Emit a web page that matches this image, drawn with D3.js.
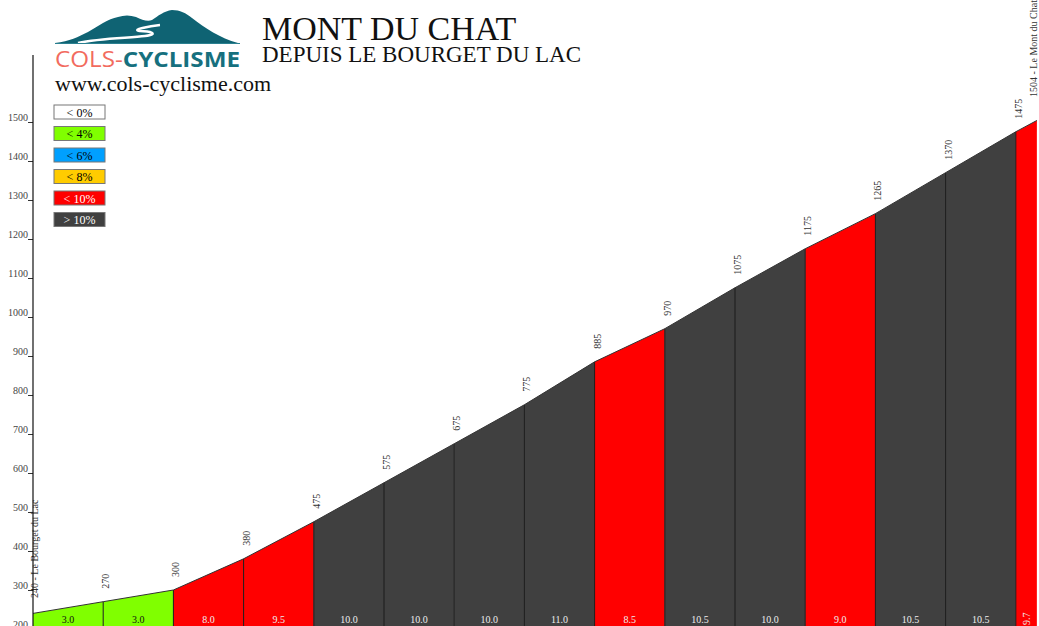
<!DOCTYPE html>
<html>
<head>
<meta charset="utf-8">
<script src="https://cdn.jsdelivr.net/npm/d3@7"></script>
<style>
  body { margin:0; background:#fff; }
  svg { display:block; }
</style>
</head>
<body>
<svg id="drawing_region"></svg>
<script>
// profile data: km marks, altitude at each mark, gradient of each segment
const km        = [0,1,2,3,4,5,6,7,8,9,10,11,12,13,14,14.3];
const altitudes = [240,270,300,380,475,575,675,775,885,970,1075,1175,1265,1370,1475,1504];
const gradients = [3.0,3.0,8.0,9.5,10.0,10.0,10.0,11.0,8.5,10.5,10.0,9.0,10.5,10.5,9.7];
const yTicks    = [200,300,400,500,600,700,800,900,1000,1100,1200,1300,1400,1500];

const legendLabels = ["< 0%","< 4%","< 6%","< 8%","< 10%","> 10%"];
const legendColors = ["#ffffff","#80ff00","#00a0ff","#ffcc00","#ff0000","#404040"];
const legendText   = ["#000","#000","#000","#000","#fff","#fff"];
const thresholds   = [0,4,6,8,10];

const startLabel  = "240 - Le Bourget du Lac";
const summitLabel = "1504 - Le Mont du Chat";

const config = {
    width:1039,
    height:626,
    left:33,
    kmWidth:70.2,
    yBottom:629,
    yTop:122
};

const serif = "'Liberation Serif','Times New Roman',serif";

const svg = d3.select("#drawing_region")
    .attr("width",config.width)
    .attr("height",config.height)
    .style("font-family",serif);

const xscale = d3.scaleLinear()
    .domain([0,d3.max(km)])
    .range([config.left,config.left+d3.max(km)*config.kmWidth]);
const yscale = d3.scaleLinear()
    .domain([200,1500])
    .range([config.yBottom,config.yTop]);
const colorScale = d3.scaleThreshold()
    .domain(thresholds)
    .range(legendColors);

// segments
const segments = gradients.map((g,i)=>({
    i:i, g:g,
    x0:km[i], x1:km[i+1],
    a0:altitudes[i], a1:altitudes[i+1]
}));

const chart = svg.append("g");

chart.selectAll("path.seg")
    .data(segments)
    .enter()
    .append("path")
    .attr("class","seg")
    .attr("d",d=>`M${xscale(d.x0)},${yscale(200)}L${xscale(d.x0)},${yscale(d.a0)}L${xscale(d.x1)},${yscale(d.a1)}L${xscale(d.x1)},${yscale(200)}Z`)
    .attr("fill",d=>colorScale(d.g))
    .attr("stroke","none");

// separators between segments
chart.selectAll("line.sep")
    .data(km.slice(1,-1).map((k,i)=>({k:k,a:altitudes[i+1]})))
    .enter()
    .append("line")
    .attr("x1",d=>xscale(d.k)).attr("x2",d=>xscale(d.k))
    .attr("y1",d=>yscale(d.a)).attr("y2",yscale(200))
    .attr("stroke","#1a1a1a")
    .attr("stroke-width",1);

// profile outline
chart.append("path")
    .datum(km.map((k,i)=>[k,altitudes[i]]))
    .attr("d",d3.line().x(d=>xscale(d[0])).y(d=>yscale(d[1])))
    .attr("fill","none")
    .attr("stroke","#333")
    .attr("stroke-width",1);

// altitude labels at each km
chart.selectAll("text.alt")
    .data(km.slice(1,-1).map((k,i)=>({k:k,a:altitudes[i+1]})))
    .enter()
    .append("text")
    .attr("class","alt")
    .attr("transform",d=>`translate(${xscale(d.k)+6},${yscale(d.a)-13}) rotate(-90)`)
    .attr("font-size",10)
    .attr("fill","#333")
    .text(d=>d.a);

// gradient labels
chart.selectAll("text.grad")
    .data(segments)
    .enter()
    .append("text")
    .attr("class","grad")
    .attr("transform",d=>{
        const xm = (xscale(d.x0)+xscale(d.x1))/2;
        return (d.x1-d.x0)<0.5 ? `translate(${xm+4},625) rotate(-90)` : `translate(${xm},623)`;
    })
    .attr("text-anchor",d=>(d.x1-d.x0)<0.5 ? "start" : "middle")
    .attr("font-size",10)
    .attr("fill",d=>d.g<4 ? "#111" : "#eee")
    .text(d=>d.g.toFixed(1));

// start / summit labels
svg.append("text")
    .attr("transform",`translate(${config.left+5},598) rotate(-90)`)
    .attr("font-size",10)
    .attr("fill","#333")
    .text(startLabel);
svg.append("text")
    .attr("transform",`translate(${xscale(d3.max(km))},97) rotate(-90)`)
    .attr("font-size",10)
    .attr("fill","#333")
    .text(summitLabel);

// y axis
const yaxis = d3.axisLeft(yscale)
    .tickValues(yTicks)
    .tickSize(5)
    .tickFormat(d3.format("d"));
const yaxis_group = svg.append("g")
    .attr("transform",`translate(${config.left},0)`)
    .call(yaxis);
yaxis_group.select(".domain").remove();
yaxis_group.selectAll(".tick line").attr("stroke","#333");
yaxis_group.selectAll(".tick text")
    .attr("x",-5)
    .attr("dy","-0.15em")
    .attr("font-family",serif)
    .attr("font-size",10)
    .attr("fill","#444");
svg.append("line")
    .attr("x1",config.left).attr("x2",config.left)
    .attr("y1",55).attr("y2",config.height)
    .attr("stroke","#111")
    .attr("stroke-width",1.2);

// legend
const legend = svg.append("g").attr("transform","translate(54,105)");
const items = legend.selectAll("g")
    .data(legendLabels)
    .enter()
    .append("g")
    .attr("transform",(d,i)=>`translate(0,${i*21.5})`);
items.append("rect")
    .attr("width",51).attr("height",14)
    .attr("fill",(d,i)=>legendColors[i])
    .attr("stroke","#777")
    .attr("stroke-width",1);
items.append("text")
    .attr("x",25.5).attr("y",11.5)
    .attr("text-anchor","middle")
    .attr("font-size",12)
    .attr("fill",(d,i)=>legendText[i])
    .text(d=>d);

// titles
svg.append("text")
    .attr("x",262).attr("y",40)
    .attr("font-size",34)
    .attr("fill","#111")
    .text("MONT DU CHAT");
svg.append("text")
    .attr("x",262).attr("y",62)
    .attr("font-size",23)
    .attr("fill","#111")
    .text("DEPUIS LE BOURGET DU LAC");
svg.append("text")
    .attr("x",55).attr("y",91)
    .attr("font-size",22)
    .attr("fill","#111")
    .text("www.cols-cyclisme.com");

// logo
const logo = svg.append("g");
logo.append("path")
    .attr("d","M55,43 C70,41 78,37 88,32 C98,26 108,19 118,17 C124,15 130,15 136,17 C142,20 148,22 152,20 C158,16 164,11 172,10 C180,10 186,13 192,18 C205,28 220,38 238,43 Z")
    .attr("fill","#0f6373");
logo.append("path")
    .attr("d","M78,43 C100,38 130,38 145,36 C160,34 150,31 140,31 C130,30 150,26 160,25")
    .attr("fill","none")
    .attr("stroke","#fff")
    .attr("stroke-width",2.5);
logo.append("line")
    .attr("x1",55).attr("x2",240).attr("y1",43.5).attr("y2",43.5)
    .attr("stroke","#2a8090").attr("stroke-width",1);
const logoText = logo.append("text")
    .attr("x",55).attr("y",67)
    .attr("font-family","'Open Sans',sans-serif")
    .attr("font-size",21)
    .attr("textLength",185)
    .attr("lengthAdjust","spacingAndGlyphs");
logoText.append("tspan").attr("fill","#f26b5e").text("COLS-");
logoText.append("tspan").attr("fill","#16707e").attr("font-weight","bold").text("CYCLISME");
</script>
</body>
</html>
